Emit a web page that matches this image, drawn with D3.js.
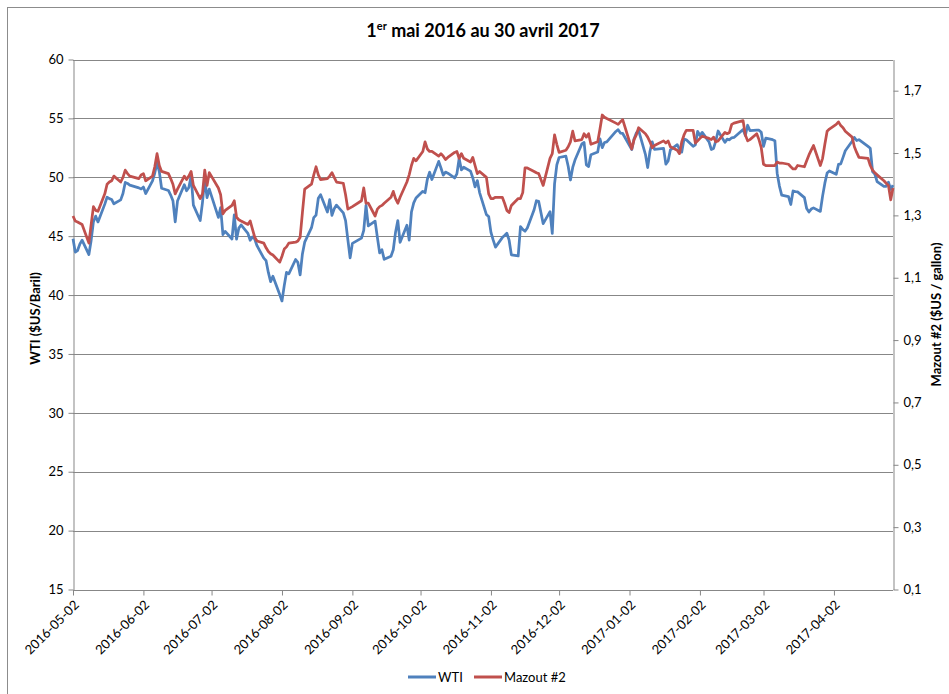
<!DOCTYPE html>
<html>
<head>
<meta charset="utf-8">
<script src="https://cdn.jsdelivr.net/npm/d3@7"></script>
<style>
  body { margin: 0; background: #fff; }
  svg text { font-family: Lato, "Open Sans", "Liberation Sans", sans-serif; fill: #000; }
</style>
</head>
<body>
<svg id="chart" width="949" height="694"></svg>
<script>
// ---------------- DATA ----------------
const titleMain = " mai 2016 au 30 avril 2017";
const leftTitle = "WTI ($US/Baril)";
const rightTitle = "Mazout #2 ($US / gallon)";
const seriesNames = ["WTI", "Mazout #2"];

const startDate = "2016-05-02";
const endDate = "2017-04-28";
const holidays = ["2016-05-30","2016-07-04","2016-09-05","2016-11-24","2016-12-26",
                  "2017-01-02","2017-01-16","2017-02-20","2017-04-14"];

const xTickLabels = ["2016-05-02","2016-06-02","2016-07-02","2016-08-02","2016-09-02","2016-10-02",
                     "2016-11-02","2016-12-02","2017-01-02","2017-02-02","2017-03-02","2017-04-02"];
const leftTicks = [15, 20, 25, 30, 35, 40, 45, 50, 55, 60];
const rightTicks = [0.1, 0.3, 0.5, 0.7, 0.9, 1.1, 1.3, 1.5, 1.7];

// WTI ($US/baril), one value per trading day
const wti = [
  44.78,43.65,43.78,44.32,44.66,43.44,44.66,46.23,46.70,46.21,47.72,48.31,48.19,48.12,47.75,48.08,48.62,49.56,49.48,49.33,49.10,
  49.01,49.17,48.62,49.69,50.36,51.23,50.48,49.07,48.88,48.49,48.01,46.21,47.98,49.37,48.85,49.13,50.11,47.64,46.33,47.85,49.88,48.27,
  48.99,46.60,47.43,45.14,45.41,44.76,46.80,44.75,45.68,45.95,45.24,44.65,44.94,44.75,44.19,43.13,42.92,41.92,41.14,41.60,
  40.05,39.50,40.80,41.93,41.80,43.02,42.77,41.71,43.49,44.49,45.72,46.58,46.79,48.22,48.52,47.05,48.10,46.77,47.33,47.64,46.98,46.32,44.70,
  43.16,44.39,44.83,45.50,47.62,45.88,46.28,44.90,43.58,43.85,43.03,43.30,43.85,45.34,46.32,44.48,45.93,44.67,47.05,47.83,48.24,
  48.81,48.69,49.83,50.43,49.81,51.35,50.79,50.18,50.44,50.35,49.94,50.29,51.60,50.63,50.85,50.52,49.96,49.18,49.72,48.70,46.83,
  46.67,45.32,44.66,44.07,44.88,45.05,45.25,44.66,43.41,43.32,45.81,45.57,45.42,45.69,47.24,48.01,47.96,46.06,47.08,45.23,49.44,
  51.06,51.68,51.79,50.93,49.77,50.84,51.46,52.83,52.96,51.05,50.91,51.91,52.14,53.26,52.52,52.95,53.01,53.89,54.04,53.75,53.72,
  52.36,53.26,53.77,53.98,51.95,50.82,52.19,53.01,52.36,52.45,51.12,51.39,52.33,52.77,52.38,52.14,53.24,53.18,52.63,52.75,
  53.90,53.55,53.81,53.01,52.36,52.45,53.10,53.93,52.96,53.24,53.18,53.35,53.38,54.06,53.55,54.42,53.97,54.00,54.00,
  53.82,52.63,53.33,53.19,53.11,50.35,49.25,48.48,48.36,47.69,48.84,48.78,48.76,48.27,47.34,47.05,47.30,47.40,47.10,48.40,49.50,50.36,50.54,
  50.25,51.09,51.14,51.69,52.25,53.06,53.38,53.12,53.19,52.62,52.46,50.49,50.26,49.64,49.22,49.22,49.58,48.97,49.33
];

// Mazout #2 ($US/gallon), one value per trading day
const mazout = [
  1.298,1.282,1.279,1.275,1.271,1.211,1.271,1.328,1.316,1.313,1.369,1.400,1.407,1.411,1.426,1.407,1.422,1.445,1.434,1.426,1.418,
  1.430,1.434,1.411,1.426,1.456,1.498,1.460,1.441,1.434,1.418,1.400,1.369,1.384,1.426,1.415,1.426,1.441,1.396,1.354,1.369,1.445,1.396,
  1.437,1.388,1.366,1.305,1.316,1.332,1.347,1.294,1.286,1.282,1.271,1.282,1.256,1.230,1.218,1.211,1.196,1.184,1.177,1.173,
  1.150,1.169,1.192,1.199,1.211,1.214,1.218,1.230,1.309,1.384,1.400,1.430,1.456,1.430,1.415,1.418,1.426,1.437,1.422,1.407,1.403,1.366,1.320,
  1.324,1.328,1.347,1.388,1.339,1.339,1.298,1.320,1.328,1.332,1.339,1.358,1.377,1.354,1.339,1.358,1.407,1.430,1.460,1.483,1.475,
  1.505,1.536,1.513,1.505,1.505,1.490,1.498,1.490,1.479,1.486,1.502,1.505,1.483,1.498,1.483,1.471,1.486,1.460,1.434,1.441,1.422,
  1.369,1.354,1.354,1.358,1.358,1.339,1.316,1.309,1.332,1.354,1.354,1.373,1.452,1.452,1.441,1.437,1.434,1.396,1.483,1.498,1.558,
  1.528,1.502,1.509,1.520,1.536,1.570,1.539,1.543,1.562,1.551,1.562,1.528,1.536,1.577,1.622,1.615,1.611,1.596,1.592,1.600,1.607,
  1.513,1.543,1.558,1.581,1.562,1.551,1.536,1.517,1.524,1.539,1.532,1.539,1.520,1.509,1.498,1.536,1.558,1.573,1.573,1.532,
  1.539,1.547,1.554,1.547,1.543,1.551,1.536,1.539,1.566,1.562,1.566,1.592,1.596,1.604,1.558,1.539,1.543,1.562,1.543,
  1.517,1.464,1.460,1.460,1.460,1.471,1.468,1.468,1.464,1.456,1.449,1.449,1.460,1.456,1.475,1.494,1.509,1.524,1.460,1.483,1.528,1.570,1.577,
  1.592,1.600,1.588,1.581,1.570,1.551,1.520,1.502,1.486,1.483,1.460,1.445,1.437,1.430,1.411,1.403,1.396,1.350,1.388
];

// ---------------- CHART ----------------
const parse = d3.timeParse("%Y-%m-%d");
const fmt = d3.timeFormat("%Y-%m-%d");
const holidaySet = new Set(holidays);
const tradingDays = d3.timeDay.range(parse(startDate), d3.timeDay.offset(parse(endDate), 1))
  .filter(d => d.getDay() !== 0 && d.getDay() !== 6 && !holidaySet.has(fmt(d)));

const n = Math.min(tradingDays.length, wti.length, mazout.length);
const wtiData = d3.range(n).map(i => ({ date: tradingDays[i], v: wti[i] }));
const mazData = d3.range(n).map(i => ({ date: tradingDays[i], v: mazout[i] }));

const svg = d3.select("#chart");
const plot = { left: 73, right: 893, top: 59.5, bottom: 589.5 };

const x = d3.scaleTime().domain([parse(startDate), parse(endDate)]).range([plot.left, plot.right]);
const yL = d3.scaleLinear().domain([15, 60]).range([plot.bottom, plot.top]);
const yR = d3.scaleLinear().domain([0.1, 1.8]).range([plot.bottom, plot.top]);

const gray = "#878787";
const blue = "#4F81BD";
const red = "#C0504D";

// chart area border
svg.append("rect").attr("x", 7.5).attr("y", 7.5).attr("width", 960).attr("height", 720)
  .attr("fill", "none").attr("stroke", "#8c8c8c").attr("stroke-width", 1);

// gridlines
svg.append("g").selectAll("line").data(leftTicks.filter(t => t !== 15)).join("line")
  .attr("x1", plot.left).attr("x2", plot.right)
  .attr("y1", d => Math.round(yL(d)) + 0.5).attr("y2", d => Math.round(yL(d)) + 0.5)
  .attr("stroke", gray).attr("stroke-width", 1);

// left axis
const axL = svg.append("g").attr("transform", `translate(${plot.left + 0.5},0)`)
  .call(d3.axisLeft(yL).tickValues(leftTicks).tickSize(5).tickSizeOuter(0).tickPadding(5));
// right axis
const axR = svg.append("g").attr("transform", `translate(${plot.right + 0.5},0)`)
  .call(d3.axisRight(yR).tickValues(rightTicks).tickSize(5).tickSizeOuter(0).tickPadding(5)
    .tickFormat(d => d3.format(".1f")(d).replace(".", ",")));
// bottom axis
const axB = svg.append("g").attr("transform", `translate(0,${Math.round(plot.bottom) + 0.5})`)
  .call(d3.axisBottom(x).tickValues(xTickLabels.map(parse)).tickSize(5).tickSizeOuter(0)
    .tickFormat(fmt));
axB.select(".domain").attr("d", `M${plot.left},0H${plot.right}`);

[axL, axR, axB].forEach(g => {
  g.select(".domain").attr("stroke", gray);
  g.selectAll(".tick line").attr("stroke", gray);
  g.selectAll(".tick text").attr("font-size", 13).attr("fill", "#000")
    .style("font-family", "Lato, 'Open Sans', sans-serif");
});
axB.selectAll(".tick text")
  .attr("text-anchor", "end").attr("x", 0).attr("y", 0).attr("dy", "0.35em")
  .attr("transform", "translate(3,12) rotate(-45)");

// series
const lineL = d3.line().x(d => x(d.date)).y(d => yL(d.v));
const lineR = d3.line().x(d => x(d.date)).y(d => yR(d.v));
svg.append("path").datum(wtiData).attr("d", lineL).attr("fill", "none")
  .attr("stroke", blue).attr("stroke-width", 2.75).attr("stroke-linejoin", "round");
svg.append("path").datum(mazData).attr("d", lineR).attr("fill", "none")
  .attr("stroke", red).attr("stroke-width", 2.75).attr("stroke-linejoin", "round");

// title
const title = svg.append("text").attr("x", 483).attr("y", 37).attr("text-anchor", "middle")
  .attr("font-size", 18).attr("font-weight", "bold");
title.append("tspan").text("1");
title.append("tspan").attr("dy", -7).attr("font-size", 11).text("er");
title.append("tspan").attr("dy", 7).text(titleMain);

// axis titles
svg.append("text").attr("transform", `translate(40,${(plot.top + plot.bottom) / 2 - 6}) rotate(-90)`)
  .attr("text-anchor", "middle").attr("font-size", 13).attr("font-weight", "bold").text(leftTitle);
svg.append("text").attr("transform", `translate(941,${(plot.top + plot.bottom) / 2 - 10}) rotate(-90)`)
  .attr("text-anchor", "middle").attr("font-size", 13).attr("font-weight", "bold").text(rightTitle);

// legend
const legend = svg.append("g").attr("transform", "translate(0,677)");
const legItems = [{ name: seriesNames[0], color: blue, x: 408 }, { name: seriesNames[1], color: red, x: 474 }];
legItems.forEach(it => {
  legend.append("line").attr("x1", it.x).attr("x2", it.x + 28).attr("y1", 0).attr("y2", 0)
    .attr("stroke", it.color).attr("stroke-width", 3);
  legend.append("text").attr("x", it.x + 30).attr("y", 4.5).attr("font-size", 13).text(it.name);
});
</script>
</body>
</html>
